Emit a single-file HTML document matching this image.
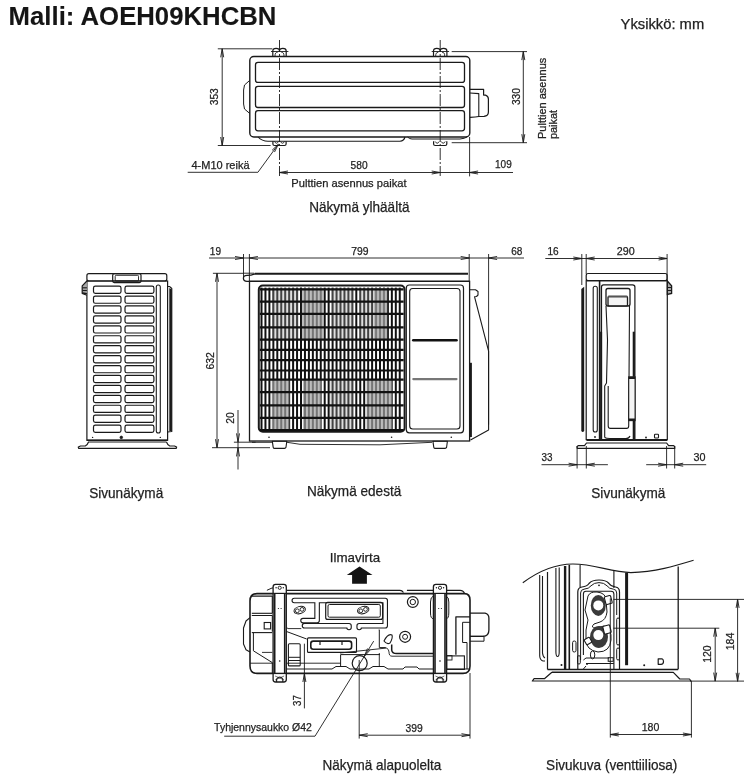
<!DOCTYPE html>
<html><head><meta charset="utf-8"><style>
html,body{margin:0;padding:0;background:#fff;}
svg{display:block;font-family:"Liberation Sans",sans-serif;will-change:transform;}
</style></head><body>
<svg width="744" height="778" viewBox="0 0 744 778">
<text x="8.6" y="25" font-size="25" font-weight="bold" fill="#151515" stroke="#151515" stroke-width="0.1" text-anchor="start" textLength="267.8" lengthAdjust="spacingAndGlyphs" >Malli: AOEH09KHCBN</text>
<text x="620.6" y="29.2" font-size="14.6" font-weight="normal" fill="#222" stroke="#222" stroke-width="0.25" text-anchor="start" textLength="83.6" lengthAdjust="spacingAndGlyphs" >Yksikkö: mm</text>
<line x1="279.5" y1="40" x2="279.5" y2="176" stroke="#1a1a1a" stroke-width="0.9" stroke-dasharray="12 2 2 2"/>
<line x1="440.2" y1="40" x2="440.2" y2="176" stroke="#1a1a1a" stroke-width="0.9" stroke-dasharray="12 2 2 2"/>
<rect x="249.8" y="56.5" width="220.0" height="80.5" rx="4" fill="none" stroke="#1a1a1a" stroke-width="1.4" />
<rect x="255.5" y="62.3" width="209.0" height="20.1" rx="2.5" fill="none" stroke="#1a1a1a" stroke-width="1.3" />
<rect x="255.5" y="86.3" width="209.0" height="21.2" rx="2.5" fill="none" stroke="#1a1a1a" stroke-width="1.3" />
<rect x="255.5" y="110.7" width="209.0" height="20.1" rx="2.5" fill="none" stroke="#1a1a1a" stroke-width="1.3" />
<polyline points="249.8,80.3 244.5,85 243.6,90 243.6,104 244.5,109 249.8,113.5" fill="none" stroke="#1a1a1a" stroke-width="1" stroke-linejoin="round" />
<path d="M258,137 Q262,141.3 268,141.3 L400,141.3 Q404,141 405,137" fill="none" stroke="#1a1a1a" stroke-width="1.1" stroke-linejoin="round" />
<path d="M407.7,137 Q409,139 412,139 L460,139 Q465,138.5 467,137" fill="none" stroke="#1a1a1a" stroke-width="1" stroke-linejoin="round" />
<path d="M272.8,56.5 L272.8,51 Q272.8,48.3 276.1,48.3 Q279.5,48.3 279.5,51 Q279.5,48.3 282.9,48.3 Q286.2,48.3 286.2,51 L286.2,56.5" fill="none" stroke="#1a1a1a" stroke-width="1.2" stroke-linejoin="round" />
<path d="M275.0,56 Q275.0,52 277.5,52.5 M284.0,56 Q284.0,52 281.5,52.5" fill="none" stroke="#1a1a1a" stroke-width="0.9" stroke-linejoin="round" />
<line x1="271.0" y1="51.5" x2="288.4" y2="51.5" stroke="#1a1a1a" stroke-width="0.9" />
<path d="M433.5,56.5 L433.5,51 Q433.5,48.3 436.8,48.3 Q440.2,48.3 440.2,51 Q440.2,48.3 443.59999999999997,48.3 Q446.9,48.3 446.9,51 L446.9,56.5" fill="none" stroke="#1a1a1a" stroke-width="1.2" stroke-linejoin="round" />
<path d="M435.7,56 Q435.7,52 438.2,52.5 M444.7,56 Q444.7,52 442.2,52.5" fill="none" stroke="#1a1a1a" stroke-width="0.9" stroke-linejoin="round" />
<line x1="431.7" y1="51.5" x2="449.09999999999997" y2="51.5" stroke="#1a1a1a" stroke-width="0.9" />
<path d="M272.9,141.3 L272.9,144 Q272.9,145.5 274.5,145.5 L284.5,145.5 Q286.1,145.5 286.1,144 L286.1,141.3" fill="none" stroke="#1a1a1a" stroke-width="1.2" stroke-linejoin="round" />
<path d="M274.5,141.5 Q276.5,145 278.5,141.5 M280.5,141.5 Q282.5,145 284.5,141.5" fill="none" stroke="#1a1a1a" stroke-width="0.9" stroke-linejoin="round" />
<path d="M433.59999999999997,141.3 L433.59999999999997,144 Q433.59999999999997,145.5 435.2,145.5 L445.2,145.5 Q446.8,145.5 446.8,144 L446.8,141.3" fill="none" stroke="#1a1a1a" stroke-width="1.2" stroke-linejoin="round" />
<path d="M435.2,141.5 Q437.2,145 439.2,141.5 M441.2,141.5 Q443.2,145 445.2,141.5" fill="none" stroke="#1a1a1a" stroke-width="0.9" stroke-linejoin="round" />
<path d="M470,89.3 L483.6,89.3 L483.6,95.1 L485.5,95.1 Q488.4,96 488.4,99 L488.4,112 Q488.4,116 484,116.3 L478.8,116.5 Q476,117.3 470,117.3" fill="none" stroke="#1a1a1a" stroke-width="1.2" stroke-linejoin="round" />
<path d="M470,93 L478.8,93.6 L478.8,116.5" fill="none" stroke="#1a1a1a" stroke-width="1.1" stroke-linejoin="round" />
<line x1="217.8" y1="48.8" x2="272.4" y2="48.8" stroke="#1a1a1a" stroke-width="0.9" />
<line x1="217.8" y1="145.5" x2="270.6" y2="145.5" stroke="#1a1a1a" stroke-width="0.9" />
<line x1="222.2" y1="48.8" x2="222.2" y2="145.5" stroke="#1a1a1a" stroke-width="0.9" />
<polyline points="223.7,57.3 222.2,48.8 220.7,57.3" fill="none" stroke="#1a1a1a" stroke-width="0.9" stroke-linejoin="miter"/>
<polyline points="220.7,137.0 222.2,145.5 223.7,137.0" fill="none" stroke="#1a1a1a" stroke-width="0.9" stroke-linejoin="miter"/>
<text x="218.2" y="96.7" font-size="10.8" font-weight="normal" fill="#222" stroke="#222" stroke-width="0.25" text-anchor="middle" textLength="17" lengthAdjust="spacingAndGlyphs" transform="rotate(-90 218.2 96.7)" >353</text>
<line x1="451.7" y1="51.6" x2="527" y2="51.6" stroke="#1a1a1a" stroke-width="0.9" />
<line x1="451.7" y1="142.7" x2="527" y2="142.7" stroke="#1a1a1a" stroke-width="0.9" />
<line x1="523.3" y1="51.6" x2="523.3" y2="142.7" stroke="#1a1a1a" stroke-width="0.9" />
<polyline points="524.8,60.1 523.3,51.6 521.8,60.1" fill="none" stroke="#1a1a1a" stroke-width="0.9" stroke-linejoin="miter"/>
<polyline points="521.8,134.2 523.3,142.7 524.8,134.2" fill="none" stroke="#1a1a1a" stroke-width="0.9" stroke-linejoin="miter"/>
<text x="520.1" y="96.6" font-size="10.8" font-weight="normal" fill="#222" stroke="#222" stroke-width="0.25" text-anchor="middle" textLength="17" lengthAdjust="spacingAndGlyphs" transform="rotate(-90 520.1 96.6)" >330</text>
<text x="546" y="139" font-size="11" font-weight="normal" fill="#222" stroke="#222" stroke-width="0.25" text-anchor="start" textLength="81.3" lengthAdjust="spacingAndGlyphs" transform="rotate(-90 546 139)" >Pulttien asennus</text>
<text x="557.2" y="139" font-size="11" font-weight="normal" fill="#222" stroke="#222" stroke-width="0.25" text-anchor="start" textLength="29" lengthAdjust="spacingAndGlyphs" transform="rotate(-90 557.2 139)" >paikat</text>
<line x1="279.5" y1="172.5" x2="513" y2="172.5" stroke="#1a1a1a" stroke-width="0.9" />
<polyline points="288.0,171.0 279.5,172.5 288.0,174.0" fill="none" stroke="#1a1a1a" stroke-width="0.9" stroke-linejoin="miter"/>
<polyline points="431.7,174.0 440.2,172.5 431.7,171.0" fill="none" stroke="#1a1a1a" stroke-width="0.9" stroke-linejoin="miter"/>
<polyline points="478.1,171.0 469.6,172.5 478.1,174.0" fill="none" stroke="#1a1a1a" stroke-width="0.9" stroke-linejoin="miter"/>
<line x1="469.6" y1="137" x2="469.6" y2="176.4" stroke="#1a1a1a" stroke-width="0.9" />
<text x="350.6" y="169.1" font-size="10.8" font-weight="normal" fill="#222" stroke="#222" stroke-width="0.25" text-anchor="start" textLength="17" lengthAdjust="spacingAndGlyphs" >580</text>
<text x="495" y="168.2" font-size="10.8" font-weight="normal" fill="#222" stroke="#222" stroke-width="0.25" text-anchor="start" textLength="16.7" lengthAdjust="spacingAndGlyphs" >109</text>
<polyline points="187.7,172.3 257.9,172.3 278.3,144.3" fill="none" stroke="#1a1a1a" stroke-width="0.9" stroke-linejoin="round" />
<polyline points="274.51,152.05 278.3,144.3 272.08,150.29" fill="none" stroke="#1a1a1a" stroke-width="0.9" stroke-linejoin="miter"/>
<text x="191.5" y="169" font-size="11" font-weight="normal" fill="#222" stroke="#222" stroke-width="0.25" text-anchor="start" textLength="58" lengthAdjust="spacingAndGlyphs" >4-M10 reikä</text>
<text x="291.3" y="186.6" font-size="11.1" font-weight="normal" fill="#222" stroke="#222" stroke-width="0.25" text-anchor="start" textLength="115.2" lengthAdjust="spacingAndGlyphs" >Pulttien asennus paikat</text>
<text x="309.2" y="211.5" font-size="14.3" font-weight="normal" fill="#222" stroke="#222" stroke-width="0.25" text-anchor="start" textLength="100.3" lengthAdjust="spacingAndGlyphs" >Näkymä ylhäältä</text>
<rect x="86.9" y="281" width="80.7" height="159.3" rx="0" fill="none" stroke="#1a1a1a" stroke-width="1.2" />
<rect x="86.9" y="273.7" width="79.9" height="7.3" rx="2" fill="none" stroke="#1a1a1a" stroke-width="1.2" />
<rect x="112.7" y="273.7" width="28.3" height="8.9" rx="1.5" fill="none" stroke="#1a1a1a" stroke-width="1.2" />
<rect x="115.2" y="275.3" width="23.3" height="5.7" rx="1" fill="none" stroke="#1a1a1a" stroke-width="0.9" />
<rect x="93.5" y="286.1" width="27.5" height="7.2" rx="1.8" fill="none" stroke="#1a1a1a" stroke-width="1.2" />
<rect x="125" y="286.1" width="28.9" height="7.2" rx="1.8" fill="none" stroke="#1a1a1a" stroke-width="1.2" />
<rect x="93.5" y="296.03000000000003" width="27.5" height="7.2" rx="1.8" fill="none" stroke="#1a1a1a" stroke-width="1.2" />
<rect x="125" y="296.03000000000003" width="28.9" height="7.2" rx="1.8" fill="none" stroke="#1a1a1a" stroke-width="1.2" />
<rect x="93.5" y="305.96000000000004" width="27.5" height="7.2" rx="1.8" fill="none" stroke="#1a1a1a" stroke-width="1.2" />
<rect x="125" y="305.96000000000004" width="28.9" height="7.2" rx="1.8" fill="none" stroke="#1a1a1a" stroke-width="1.2" />
<rect x="93.5" y="315.89000000000004" width="27.5" height="7.2" rx="1.8" fill="none" stroke="#1a1a1a" stroke-width="1.2" />
<rect x="125" y="315.89000000000004" width="28.9" height="7.2" rx="1.8" fill="none" stroke="#1a1a1a" stroke-width="1.2" />
<rect x="93.5" y="325.82000000000005" width="27.5" height="7.2" rx="1.8" fill="none" stroke="#1a1a1a" stroke-width="1.2" />
<rect x="125" y="325.82000000000005" width="28.9" height="7.2" rx="1.8" fill="none" stroke="#1a1a1a" stroke-width="1.2" />
<rect x="93.5" y="335.75" width="27.5" height="7.2" rx="1.8" fill="none" stroke="#1a1a1a" stroke-width="1.2" />
<rect x="125" y="335.75" width="28.9" height="7.2" rx="1.8" fill="none" stroke="#1a1a1a" stroke-width="1.2" />
<rect x="93.5" y="345.68" width="27.5" height="7.2" rx="1.8" fill="none" stroke="#1a1a1a" stroke-width="1.2" />
<rect x="125" y="345.68" width="28.9" height="7.2" rx="1.8" fill="none" stroke="#1a1a1a" stroke-width="1.2" />
<rect x="93.5" y="355.61" width="27.5" height="7.2" rx="1.8" fill="none" stroke="#1a1a1a" stroke-width="1.2" />
<rect x="125" y="355.61" width="28.9" height="7.2" rx="1.8" fill="none" stroke="#1a1a1a" stroke-width="1.2" />
<rect x="93.5" y="365.54" width="27.5" height="7.2" rx="1.8" fill="none" stroke="#1a1a1a" stroke-width="1.2" />
<rect x="125" y="365.54" width="28.9" height="7.2" rx="1.8" fill="none" stroke="#1a1a1a" stroke-width="1.2" />
<rect x="93.5" y="375.47" width="27.5" height="7.2" rx="1.8" fill="none" stroke="#1a1a1a" stroke-width="1.2" />
<rect x="125" y="375.47" width="28.9" height="7.2" rx="1.8" fill="none" stroke="#1a1a1a" stroke-width="1.2" />
<rect x="93.5" y="385.40000000000003" width="27.5" height="7.2" rx="1.8" fill="none" stroke="#1a1a1a" stroke-width="1.2" />
<rect x="125" y="385.40000000000003" width="28.9" height="7.2" rx="1.8" fill="none" stroke="#1a1a1a" stroke-width="1.2" />
<rect x="93.5" y="395.33000000000004" width="27.5" height="7.2" rx="1.8" fill="none" stroke="#1a1a1a" stroke-width="1.2" />
<rect x="125" y="395.33000000000004" width="28.9" height="7.2" rx="1.8" fill="none" stroke="#1a1a1a" stroke-width="1.2" />
<rect x="93.5" y="405.26" width="27.5" height="7.2" rx="1.8" fill="none" stroke="#1a1a1a" stroke-width="1.2" />
<rect x="125" y="405.26" width="28.9" height="7.2" rx="1.8" fill="none" stroke="#1a1a1a" stroke-width="1.2" />
<rect x="93.5" y="415.19000000000005" width="27.5" height="7.2" rx="1.8" fill="none" stroke="#1a1a1a" stroke-width="1.2" />
<rect x="125" y="415.19000000000005" width="28.9" height="7.2" rx="1.8" fill="none" stroke="#1a1a1a" stroke-width="1.2" />
<rect x="93.5" y="425.12" width="27.5" height="7.2" rx="1.8" fill="none" stroke="#1a1a1a" stroke-width="1.2" />
<rect x="125" y="425.12" width="28.9" height="7.2" rx="1.8" fill="none" stroke="#1a1a1a" stroke-width="1.2" />
<rect x="156.3" y="285" width="4.0" height="148" rx="2" fill="none" stroke="#1a1a1a" stroke-width="1.1" />
<polyline points="167.6,286.5 169.5,286.5 171.8,288.5 171.8,431.5 167.6,432" fill="none" stroke="#1a1a1a" stroke-width="1.1" stroke-linejoin="round" />
<polygon points="169.3,288 171.9,289.5 171.9,431 169.3,431" fill="#1a1a1a"/>
<polyline points="86.9,281 82.2,285.8 82.2,293.5 86.9,295.2" fill="#aaa" stroke="#1a1a1a" stroke-width="1.2" stroke-linejoin="round" />
<line x1="82.5" y1="287.8" x2="86.9" y2="287.8" stroke="#1a1a1a" stroke-width="1.1" />
<line x1="82.5" y1="290.5" x2="86.9" y2="290.5" stroke="#1a1a1a" stroke-width="1.1" />
<line x1="82.5" y1="293" x2="86.9" y2="293.6" stroke="#1a1a1a" stroke-width="1.3" />
<line x1="86.9" y1="440.3" x2="167.6" y2="440.3" stroke="#1a1a1a" stroke-width="1.4" />
<line x1="88" y1="442" x2="166.5" y2="442" stroke="#1a1a1a" stroke-width="1.0" />
<polyline points="88.5,442 87.2,444.6 85.5,445.8 80.5,446 78.3,447 78.6,448.4 176.3,448.4 176.6,447 174.5,446 169.5,445.8 167.8,444.6 166.5,442" fill="none" stroke="#1a1a1a" stroke-width="1.2" stroke-linejoin="round" />
<circle cx="121.3" cy="437.4" r="1.3" fill="#1a1a1a" stroke="#1a1a1a" stroke-width="0.8"/>
<circle cx="92.6" cy="437.4" r="0.7" fill="#1a1a1a" stroke="#1a1a1a" stroke-width="0"/>
<circle cx="160.3" cy="437.4" r="0.7" fill="#1a1a1a" stroke="#1a1a1a" stroke-width="0"/>
<line x1="209" y1="258" x2="524" y2="258" stroke="#1a1a1a" stroke-width="0.9" />
<polyline points="235.0,259.5 243.5,258 235.0,256.5" fill="none" stroke="#1a1a1a" stroke-width="0.9" stroke-linejoin="miter"/>
<polyline points="257.9,256.5 249.4,258 257.9,259.5" fill="none" stroke="#1a1a1a" stroke-width="0.9" stroke-linejoin="miter"/>
<polyline points="460.7,259.5 469.2,258 460.7,256.5" fill="none" stroke="#1a1a1a" stroke-width="0.9" stroke-linejoin="miter"/>
<polyline points="497.1,256.5 488.6,258 497.1,259.5" fill="none" stroke="#1a1a1a" stroke-width="0.9" stroke-linejoin="miter"/>
<line x1="243.5" y1="254" x2="243.5" y2="279" stroke="#1a1a1a" stroke-width="0.9" />
<line x1="249.4" y1="254" x2="249.4" y2="281" stroke="#1a1a1a" stroke-width="0.9" />
<line x1="469.2" y1="254" x2="469.2" y2="281" stroke="#1a1a1a" stroke-width="0.9" />
<line x1="488.6" y1="254" x2="488.6" y2="424.6" stroke="#1a1a1a" stroke-width="0.9" />
<text x="209.8" y="254.7" font-size="10.8" font-weight="normal" fill="#222" stroke="#222" stroke-width="0.25" text-anchor="start" textLength="11.2" lengthAdjust="spacingAndGlyphs" >19</text>
<text x="351.3" y="254.7" font-size="10.8" font-weight="normal" fill="#222" stroke="#222" stroke-width="0.25" text-anchor="start" textLength="17.3" lengthAdjust="spacingAndGlyphs" >799</text>
<text x="511.2" y="254.7" font-size="10.8" font-weight="normal" fill="#222" stroke="#222" stroke-width="0.25" text-anchor="start" textLength="11.2" lengthAdjust="spacingAndGlyphs" >68</text>
<line x1="212.9" y1="273.3" x2="243" y2="273.3" stroke="#1a1a1a" stroke-width="0.9" />
<line x1="212" y1="447.7" x2="270" y2="447.7" stroke="#1a1a1a" stroke-width="0.9" />
<line x1="217" y1="273.3" x2="217" y2="447.7" stroke="#1a1a1a" stroke-width="0.9" />
<polyline points="218.5,281.8 217,273.3 215.5,281.8" fill="none" stroke="#1a1a1a" stroke-width="0.9" stroke-linejoin="miter"/>
<polyline points="215.5,439.2 217,447.7 218.5,439.2" fill="none" stroke="#1a1a1a" stroke-width="0.9" stroke-linejoin="miter"/>
<text x="214.2" y="360.8" font-size="10.8" font-weight="normal" fill="#222" stroke="#222" stroke-width="0.25" text-anchor="middle" textLength="17.4" lengthAdjust="spacingAndGlyphs" transform="rotate(-90 214.2 360.8)" >632</text>
<line x1="238" y1="410" x2="238" y2="469.5" stroke="#1a1a1a" stroke-width="0.9" />
<line x1="233.9" y1="442.2" x2="255.6" y2="442.2" stroke="#1a1a1a" stroke-width="0.9" />
<polyline points="236.5,433.4 238,441.9 239.5,433.4" fill="none" stroke="#1a1a1a" stroke-width="0.9" stroke-linejoin="miter"/>
<polyline points="239.5,456.4 238,447.9 236.5,456.4" fill="none" stroke="#1a1a1a" stroke-width="0.9" stroke-linejoin="miter"/>
<text x="234.4" y="418" font-size="10.8" font-weight="normal" fill="#222" stroke="#222" stroke-width="0.25" text-anchor="middle" textLength="11.5" lengthAdjust="spacingAndGlyphs" transform="rotate(-90 234.4 418)" >20</text>
<path d="M255,273.8 Q251,275.4 247,275.4 Q243.4,275.4 243.4,278.3 Q243.4,281.3 247,281.3 L469.2,281.3" fill="none" stroke="#1a1a1a" stroke-width="1.3" stroke-linejoin="round" />
<line x1="254.7" y1="273.8" x2="468" y2="273.8" stroke="#1a1a1a" stroke-width="2.1" />
<line x1="243" y1="273.2" x2="254" y2="273.2" stroke="#1a1a1a" stroke-width="0.9" />
<rect x="249.5" y="281.3" width="220.1" height="159.7" rx="0" fill="none" stroke="#1a1a1a" stroke-width="1.3" />
<line x1="252" y1="442.3" x2="272.3" y2="442.3" stroke="#1a1a1a" stroke-width="0.9" />
<rect x="258.8" y="285.6" width="145.8" height="146.2" rx="4" fill="#fff" stroke="#1a1a1a" stroke-width="2"/><line x1="261.50" y1="287.6" x2="261.50" y2="429.8" stroke="#111" stroke-width="2.0"/><line x1="265.45" y1="287.6" x2="265.45" y2="429.8" stroke="#111" stroke-width="2.0"/><line x1="269.40" y1="287.6" x2="269.40" y2="429.8" stroke="#111" stroke-width="2.0"/><line x1="273.35" y1="287.6" x2="273.35" y2="429.8" stroke="#111" stroke-width="2.0"/><line x1="277.30" y1="287.6" x2="277.30" y2="429.8" stroke="#111" stroke-width="2.0"/><line x1="281.25" y1="287.6" x2="281.25" y2="429.8" stroke="#111" stroke-width="2.0"/><line x1="285.20" y1="287.6" x2="285.20" y2="429.8" stroke="#111" stroke-width="2.0"/><line x1="289.15" y1="287.6" x2="289.15" y2="429.8" stroke="#111" stroke-width="2.0"/><line x1="293.10" y1="287.6" x2="293.10" y2="429.8" stroke="#111" stroke-width="2.0"/><line x1="297.05" y1="287.6" x2="297.05" y2="429.8" stroke="#111" stroke-width="2.0"/><line x1="301.00" y1="287.6" x2="301.00" y2="429.8" stroke="#111" stroke-width="2.0"/><line x1="304.95" y1="287.6" x2="304.95" y2="429.8" stroke="#111" stroke-width="2.0"/><line x1="308.90" y1="287.6" x2="308.90" y2="429.8" stroke="#111" stroke-width="2.0"/><line x1="312.85" y1="287.6" x2="312.85" y2="429.8" stroke="#111" stroke-width="2.0"/><line x1="316.80" y1="287.6" x2="316.80" y2="429.8" stroke="#111" stroke-width="2.0"/><line x1="320.75" y1="287.6" x2="320.75" y2="429.8" stroke="#111" stroke-width="2.0"/><line x1="324.70" y1="287.6" x2="324.70" y2="429.8" stroke="#111" stroke-width="2.0"/><line x1="328.65" y1="287.6" x2="328.65" y2="429.8" stroke="#111" stroke-width="2.0"/><line x1="332.60" y1="287.6" x2="332.60" y2="429.8" stroke="#111" stroke-width="2.0"/><line x1="336.55" y1="287.6" x2="336.55" y2="429.8" stroke="#111" stroke-width="2.0"/><line x1="340.50" y1="287.6" x2="340.50" y2="429.8" stroke="#111" stroke-width="2.0"/><line x1="344.45" y1="287.6" x2="344.45" y2="429.8" stroke="#111" stroke-width="2.0"/><line x1="348.40" y1="287.6" x2="348.40" y2="429.8" stroke="#111" stroke-width="2.0"/><line x1="352.35" y1="287.6" x2="352.35" y2="429.8" stroke="#111" stroke-width="2.0"/><line x1="356.30" y1="287.6" x2="356.30" y2="429.8" stroke="#111" stroke-width="2.0"/><line x1="360.25" y1="287.6" x2="360.25" y2="429.8" stroke="#111" stroke-width="2.0"/><line x1="364.20" y1="287.6" x2="364.20" y2="429.8" stroke="#111" stroke-width="2.0"/><line x1="368.15" y1="287.6" x2="368.15" y2="429.8" stroke="#111" stroke-width="2.0"/><line x1="372.10" y1="287.6" x2="372.10" y2="429.8" stroke="#111" stroke-width="2.0"/><line x1="376.05" y1="287.6" x2="376.05" y2="429.8" stroke="#111" stroke-width="2.0"/><line x1="380.00" y1="287.6" x2="380.00" y2="429.8" stroke="#111" stroke-width="2.0"/><line x1="383.95" y1="287.6" x2="383.95" y2="429.8" stroke="#111" stroke-width="2.0"/><line x1="387.90" y1="287.6" x2="387.90" y2="429.8" stroke="#111" stroke-width="2.0"/><line x1="391.85" y1="287.6" x2="391.85" y2="429.8" stroke="#111" stroke-width="2.0"/><line x1="395.80" y1="287.6" x2="395.80" y2="429.8" stroke="#111" stroke-width="2.0"/><line x1="399.75" y1="287.6" x2="399.75" y2="429.8" stroke="#111" stroke-width="2.0"/><rect x="272.7" y="288" width="26.05" height="51" fill="#a0a0a0" fill-opacity="0.35"/><rect x="301.9" y="288" width="21.85" height="51" fill="#a0a0a0" fill-opacity="0.7"/><rect x="331" y="288" width="22" height="51" fill="#a0a0a0" fill-opacity="0.35"/><rect x="359" y="288" width="14.75" height="51" fill="#a0a0a0" fill-opacity="0.35"/><rect x="374" y="288" width="13.3" height="51" fill="#a0a0a0" fill-opacity="0.75"/><rect x="271.7" y="379" width="17.7" height="52" fill="#a0a0a0" fill-opacity="0.7"/><rect x="302.9" y="379" width="18.8" height="52" fill="#a0a0a0" fill-opacity="0.7"/><rect x="330" y="379" width="23" height="52" fill="#a0a0a0" fill-opacity="0.35"/><rect x="366.5" y="379" width="26.0" height="52" fill="#a0a0a0" fill-opacity="0.7"/><line x1="259.8" y1="289.3" x2="403.6" y2="289.3" stroke="#111" stroke-width="2.2"/><line x1="259.8" y1="301.6" x2="403.6" y2="301.6" stroke="#111" stroke-width="2.2"/><line x1="259.8" y1="313.9" x2="403.6" y2="313.9" stroke="#111" stroke-width="2.2"/><line x1="259.8" y1="327.3" x2="403.6" y2="327.3" stroke="#111" stroke-width="2.2"/><line x1="259.8" y1="339.6" x2="403.6" y2="339.6" stroke="#111" stroke-width="2.2"/><line x1="259.8" y1="349.9" x2="403.6" y2="349.9" stroke="#111" stroke-width="2.2"/><line x1="259.8" y1="360.2" x2="403.6" y2="360.2" stroke="#111" stroke-width="2.2"/><line x1="259.8" y1="370.5" x2="403.6" y2="370.5" stroke="#111" stroke-width="2.2"/><line x1="259.8" y1="379.7" x2="403.6" y2="379.7" stroke="#111" stroke-width="2.2"/><line x1="259.8" y1="392.1" x2="403.6" y2="392.1" stroke="#111" stroke-width="2.2"/><line x1="259.8" y1="405.4" x2="403.6" y2="405.4" stroke="#111" stroke-width="2.2"/><line x1="259.8" y1="417.8" x2="403.6" y2="417.8" stroke="#111" stroke-width="2.2"/><line x1="259.8" y1="430.1" x2="403.6" y2="430.1" stroke="#111" stroke-width="2.2"/>
<rect x="406.3" y="285" width="57.2" height="147.8" rx="3" fill="none" stroke="#1a1a1a" stroke-width="1.2" />
<rect x="409.7" y="288.5" width="50.3" height="140.5" rx="3" fill="none" stroke="#1a1a1a" stroke-width="1.1" />
<line x1="413.3" y1="340.3" x2="456.5" y2="340.3" stroke="#111" stroke-width="2.6" stroke-linecap="round"/>
<line x1="413.3" y1="379.1" x2="456.5" y2="379.1" stroke="#777" stroke-width="2.2" stroke-linecap="round"/>
<polyline points="469.5,289.7 475.5,289.8 478,291.5 478,295 476.5,296.5 474.5,296.7 488.6,351.2 488.6,430 470.5,440" fill="none" stroke="#1a1a1a" stroke-width="1.1" stroke-linejoin="round" />
<line x1="470.8" y1="362.8" x2="470.8" y2="437" stroke="#1a1a1a" stroke-width="2.2" />
<path d="M272.3,441.2 L286.8,441.2 L286,447.3 Q285.6,448.4 284.5,448.4 L274.6,448.4 Q273.5,448.4 273.2,447.3 Z" fill="none" stroke="#1a1a1a" stroke-width="1.1" stroke-linejoin="round" />
<path d="M432.9,441.2 L447.4,441.2 L446.6,447.3 Q446.2,448.4 445.1,448.4 L435.2,448.4 Q434.1,448.4 433.8,447.3 Z" fill="none" stroke="#1a1a1a" stroke-width="1.1" stroke-linejoin="round" />
<polyline points="287,442.3 300,444.3 380,444.8 432,442.3" fill="none" stroke="#1a1a1a" stroke-width="0.9" stroke-linejoin="round" />
<circle cx="269" cy="437.2" r="0.8" fill="#1a1a1a" stroke="#1a1a1a" stroke-width="0"/>
<circle cx="391.6" cy="437.2" r="0.8" fill="#1a1a1a" stroke="#1a1a1a" stroke-width="0"/>
<circle cx="451.3" cy="437.2" r="0.8" fill="#1a1a1a" stroke="#1a1a1a" stroke-width="0"/>
<line x1="545.3" y1="258.5" x2="666.6" y2="258.5" stroke="#1a1a1a" stroke-width="0.9" />
<polyline points="573.3,260.0 581.8,258.5 573.3,257.0" fill="none" stroke="#1a1a1a" stroke-width="0.9" stroke-linejoin="miter"/>
<polyline points="594.7,257.0 586.2,258.5 594.7,260.0" fill="none" stroke="#1a1a1a" stroke-width="0.9" stroke-linejoin="miter"/>
<polyline points="658.6,260.0 667.1,258.5 658.6,257.0" fill="none" stroke="#1a1a1a" stroke-width="0.9" stroke-linejoin="miter"/>
<line x1="581.8" y1="254" x2="581.8" y2="285" stroke="#1a1a1a" stroke-width="0.9" />
<line x1="586.2" y1="254" x2="586.2" y2="274" stroke="#1a1a1a" stroke-width="0.9" />
<line x1="667.1" y1="254" x2="667.1" y2="280" stroke="#1a1a1a" stroke-width="0.9" />
<text x="547.4" y="254.7" font-size="10.8" font-weight="normal" fill="#222" stroke="#222" stroke-width="0.25" text-anchor="start" textLength="11.2" lengthAdjust="spacingAndGlyphs" >16</text>
<text x="616.8" y="254.7" font-size="10.8" font-weight="normal" fill="#222" stroke="#222" stroke-width="0.25" text-anchor="start" textLength="17.9" lengthAdjust="spacingAndGlyphs" >290</text>
<rect x="586.2" y="273.5" width="80.9" height="7.2" rx="2" fill="none" stroke="#1a1a1a" stroke-width="1.2" />
<rect x="586.2" y="280.7" width="81.1" height="158.9" rx="0" fill="none" stroke="#1a1a1a" stroke-width="1.2" />
<path d="M667.3,281 L671.6,285.7 L671.6,293.4 L667.3,294.5 Z" fill="#aaa" stroke="#1a1a1a" stroke-width="1.3"/>
<line x1="667.5" y1="287.5" x2="671.5" y2="287.5" stroke="#1a1a1a" stroke-width="1" />
<line x1="667.5" y1="290.5" x2="671.5" y2="290.5" stroke="#1a1a1a" stroke-width="1" />
<path d="M581.3,289 L584.2,286.7 L584.2,431 Q582.7,433 581.3,431 Z" fill="#1a1a1a"/>
<rect x="593.2" y="286.2" width="4.1" height="145.8" rx="2" fill="none" stroke="#1a1a1a" stroke-width="1.1" />
<line x1="599.6" y1="281" x2="599.6" y2="439.5" stroke="#1a1a1a" stroke-width="1.6" />
<path d="M601.5,439 L601.5,287 Q601.5,284.9 603.5,284.9 L632.5,284.9 Q634.9,284.9 634.9,287 L634.9,439" fill="none" stroke="#1a1a1a" stroke-width="1.2" stroke-linejoin="round" />
<rect x="606" y="288.5" width="24" height="17.5" rx="2" fill="none" stroke="#1a1a1a" stroke-width="1.3" />
<rect x="608" y="296.5" width="19.5" height="9.3" rx="1" fill="#f4f4f4" stroke="#1a1a1a" stroke-width="1.3" />
<line x1="608" y1="296.5" x2="627.5" y2="296.5" stroke="#555" stroke-width="1.6" />
<path d="M606,306 L607.5,340 L606.5,383 L604.7,386 L604.7,437.5 M608.2,386 L608.2,426 Q608.2,428.4 610.5,428.4 L626.5,428.4 Q628.7,428.4 628.7,426 L629.5,306" fill="none" stroke="#1a1a1a" stroke-width="1.1" stroke-linejoin="round" />
<path d="M604.7,437.5 Q606,438.5 610,438.5 L626,438.5 Q629,438.5 630,436" fill="none" stroke="#1a1a1a" stroke-width="1.1" stroke-linejoin="round" />
<line x1="601.1" y1="331.7" x2="601.1" y2="439" stroke="#1a1a1a" stroke-width="2" />
<line x1="633.8" y1="331.7" x2="633.8" y2="439" stroke="#1a1a1a" stroke-width="2.2" />
<rect x="628.7" y="376.8" width="6.4" height="43.8" rx="0" fill="#f4f4f4" stroke="#1a1a1a" stroke-width="1.1" />
<line x1="628.7" y1="378" x2="635.1" y2="378" stroke="#1a1a1a" stroke-width="2" />
<line x1="628.7" y1="419.5" x2="635.1" y2="419.5" stroke="#1a1a1a" stroke-width="2" />
<rect x="654.5" y="434.2" width="4.0" height="3.8" rx="0.8" fill="none" stroke="#1a1a1a" stroke-width="1.1" />
<circle cx="646" cy="437.5" r="0.9" fill="#1a1a1a" stroke="#1a1a1a" stroke-width="0"/>
<circle cx="595" cy="437" r="0.9" fill="#1a1a1a" stroke="#1a1a1a" stroke-width="0"/>
<line x1="586.5" y1="440.3" x2="667.3" y2="440.3" stroke="#1a1a1a" stroke-width="1.6" />
<polyline points="577.1,448.4 577.1,446.6 578.5,445.6 584.5,445.6 586.5,443 666.6,443 668.6,445.6 673.3,445.6 674.7,446.6 674.7,448.4 577.1,448.4" fill="none" stroke="#1a1a1a" stroke-width="1.2" stroke-linejoin="round" />
<line x1="577.1" y1="446" x2="577.1" y2="468.5" stroke="#1a1a1a" stroke-width="0.9" />
<line x1="586.3" y1="446" x2="586.3" y2="468.5" stroke="#1a1a1a" stroke-width="0.9" />
<line x1="541.5" y1="464.7" x2="607.9" y2="464.7" stroke="#1a1a1a" stroke-width="0.9" />
<polyline points="568.6,466.2 577.1,464.7 568.6,463.2" fill="none" stroke="#1a1a1a" stroke-width="0.9" stroke-linejoin="miter"/>
<polyline points="594.8,463.2 586.3,464.7 594.8,466.2" fill="none" stroke="#1a1a1a" stroke-width="0.9" stroke-linejoin="miter"/>
<text x="541.5" y="461.3" font-size="10.8" font-weight="normal" fill="#222" stroke="#222" stroke-width="0.25" text-anchor="start" textLength="11" lengthAdjust="spacingAndGlyphs" >33</text>
<line x1="666.6" y1="446" x2="666.6" y2="468.5" stroke="#1a1a1a" stroke-width="0.9" />
<line x1="674.7" y1="446" x2="674.7" y2="468.5" stroke="#1a1a1a" stroke-width="0.9" />
<line x1="646.2" y1="464.7" x2="706.2" y2="464.7" stroke="#1a1a1a" stroke-width="0.9" />
<polyline points="658.1,466.2 666.6,464.7 658.1,463.2" fill="none" stroke="#1a1a1a" stroke-width="0.9" stroke-linejoin="miter"/>
<polyline points="683.2,463.2 674.7,464.7 683.2,466.2" fill="none" stroke="#1a1a1a" stroke-width="0.9" stroke-linejoin="miter"/>
<text x="693.4" y="461.3" font-size="10.8" font-weight="normal" fill="#222" stroke="#222" stroke-width="0.25" text-anchor="start" textLength="12" lengthAdjust="spacingAndGlyphs" >30</text>
<text x="89.2" y="497.9" font-size="14.5" font-weight="normal" fill="#222" stroke="#222" stroke-width="0.25" text-anchor="start" textLength="74" lengthAdjust="spacingAndGlyphs" >Sivunäkymä</text>
<text x="306.9" y="495.6" font-size="14.3" font-weight="normal" fill="#222" stroke="#222" stroke-width="0.25" text-anchor="start" textLength="94.4" lengthAdjust="spacingAndGlyphs" >Näkymä edestä</text>
<text x="591.3" y="497.9" font-size="14.5" font-weight="normal" fill="#222" stroke="#222" stroke-width="0.25" text-anchor="start" textLength="74" lengthAdjust="spacingAndGlyphs" >Sivunäkymä</text>
<text x="329.8" y="562.4" font-size="13.3" font-weight="normal" fill="#222" stroke="#222" stroke-width="0.25" text-anchor="start" textLength="50.4" lengthAdjust="spacingAndGlyphs" >Ilmavirta</text>
<polygon points="359.5,566.4 372.5,575 366.9,575 366.9,583.7 352.1,583.7 352.1,575 346.8,575" fill="#141414"/>
<path d="M250,601 Q250,593.6 257,593.6 L464.4,593.6 Q470,593.6 470,600 L470,666 Q470,673.4 463,673.4 L257,673.4 Q250,673.4 250,666 Z" fill="none" stroke="#1a1a1a" stroke-width="1.6" stroke-linejoin="round" />
<path d="M266.9,590.3 L272,588 L273,588" fill="none" stroke="#1a1a1a" stroke-width="1" stroke-linejoin="round" />
<path d="M286.5,590.3 L400,590.3 Q402,590.3 403.5,592.5 M406.9,590.3 L460.2,590.3 Q463,590.3 464.4,593" fill="none" stroke="#1a1a1a" stroke-width="1.2" stroke-linejoin="round" />
<polyline points="251.8,596.1 272.3,596.1 272.3,613.3" fill="none" stroke="#1a1a1a" stroke-width="1.1" stroke-linejoin="round" />
<polyline points="251.8,613.3 272.3,613.3" fill="none" stroke="#1a1a1a" stroke-width="1.1" stroke-linejoin="round" />
<polyline points="251.8,615.5 272.3,615.5 272.3,631.6" fill="none" stroke="#1a1a1a" stroke-width="1" stroke-linejoin="round" />
<rect x="264.2" y="622.5" width="6.4" height="6.4" rx="0" fill="none" stroke="#1a1a1a" stroke-width="1.1" />
<line x1="251.8" y1="632.6" x2="272.3" y2="632.6" stroke="#1a1a1a" stroke-width="1.1" />
<polyline points="253.4,632.6 253.4,650.8 272.3,662.6 272.3,673" fill="none" stroke="#1a1a1a" stroke-width="1" stroke-linejoin="round" />
<line x1="262" y1="652.4" x2="272.3" y2="652.4" stroke="#1a1a1a" stroke-width="0.9" />
<polyline points="250,617.6 246,621 243.5,628 243.5,644 246,649.7 250,652" fill="none" stroke="#1a1a1a" stroke-width="1.1" stroke-linejoin="round" />
<path d="M294.3,600.5 L385.2,600.5 L385.2,621.2 M317.1,600.5 L317.1,620.6 L303,620.6 M304.5,625.8 L349,625.8 L349,627.5 M359.2,627.5 L359.2,625.8 L385.2,625.8 L385.2,621" fill="none" stroke="#1a1a1a" stroke-width="5.6" stroke-linecap="round" stroke-linejoin="round"/>
<path d="M294.3,600.5 L385.2,600.5 L385.2,621.2 M317.1,600.5 L317.1,620.6 L303,620.6 M304.5,625.8 L349,625.8 L349,627.5 M359.2,627.5 L359.2,625.8 L385.2,625.8 L385.2,621" fill="none" stroke="#fff" stroke-width="3.4" stroke-linecap="round" stroke-linejoin="round"/>
<rect x="325.7" y="602.3" width="56.9" height="17.1" rx="2" fill="none" stroke="#1a1a1a" stroke-width="1.2" />
<rect x="328" y="604.5" width="52.3" height="12.7" rx="1.5" fill="none" stroke="#1a1a1a" stroke-width="1" />
<ellipse cx="299.7" cy="610.1" rx="5.8" ry="3.6" transform="rotate(-15 299.7 610.1)" fill="none" stroke="#1a1a1a" stroke-width="1"/>
<ellipse cx="363.2" cy="610.1" rx="5.8" ry="3.6" transform="rotate(-15 363.2 610.1)" fill="none" stroke="#1a1a1a" stroke-width="1"/>
<circle cx="297.3" cy="610.8" r="1.9" fill="none" stroke="#1a1a1a" stroke-width="0.9"/>
<circle cx="302" cy="609.4" r="1.9" fill="none" stroke="#1a1a1a" stroke-width="0.9"/>
<circle cx="360.8" cy="610.8" r="1.9" fill="none" stroke="#1a1a1a" stroke-width="0.9"/>
<circle cx="365.5" cy="609.4" r="1.9" fill="none" stroke="#1a1a1a" stroke-width="0.9"/>
<polyline points="286.5,627.5 288,628.6 301.3,628.6" fill="none" stroke="#1a1a1a" stroke-width="0.9" stroke-linejoin="round" />
<polyline points="286.5,631.5 306.7,639" fill="none" stroke="#1a1a1a" stroke-width="1" stroke-linejoin="round" />
<circle cx="412.8" cy="602" r="5.4" fill="none" stroke="#1a1a1a" stroke-width="1.2"/>
<circle cx="412.8" cy="602" r="2.7" fill="none" stroke="#1a1a1a" stroke-width="1"/>
<circle cx="405.1" cy="636.8" r="5.5" fill="none" stroke="#1a1a1a" stroke-width="1.2"/>
<circle cx="405.1" cy="636.8" r="2.5" fill="none" stroke="#1a1a1a" stroke-width="1"/>
<rect x="307.5" y="637.9" width="49.0" height="14.5" rx="1" fill="none" stroke="#1a1a1a" stroke-width="1.1" />
<rect x="310.8" y="641.1" width="40.8" height="8.1" rx="2.5" fill="none" stroke="#1a1a1a" stroke-width="1.6" />
<line x1="320" y1="641.1" x2="320" y2="645" stroke="#1a1a1a" stroke-width="1.2" />
<line x1="342" y1="641.1" x2="342" y2="645" stroke="#1a1a1a" stroke-width="1.2" />
<rect x="288.4" y="643.8" width="11.8" height="22.1" rx="1" fill="none" stroke="#1a1a1a" stroke-width="1.1" />
<line x1="288.4" y1="657.3" x2="300.2" y2="657.3" stroke="#1a1a1a" stroke-width="1" />
<line x1="288.4" y1="660.5" x2="300.2" y2="660.5" stroke="#1a1a1a" stroke-width="1" />
<path d="M378.8,629.8 L379.3,629.8 L379.3,647.6 L385.8,647.6" fill="none" stroke="#1a1a1a" stroke-width="1" stroke-linejoin="round" />
<path d="M391.7,644.4 L391.7,650 Q392,653.5 396.5,653.5 L433.4,653.5" fill="none" stroke="#1a1a1a" stroke-width="1.5" stroke-linejoin="round" />
<path d="M340,653 L386.8,648 Q389,650 389,652 Q389,656.2 392,656.2 L433.4,656.2" fill="none" stroke="#1a1a1a" stroke-width="0.9" stroke-linejoin="round" />
<path d="M384,641 Q388,633 392,635 Q393,638 390,643 Q387,645 384,641 Z" fill="none" stroke="#1a1a1a" stroke-width="1.1" stroke-linejoin="round" />
<polyline points="340.6,654.6 340.6,667" fill="none" stroke="#1a1a1a" stroke-width="1" stroke-linejoin="round" />
<line x1="340.6" y1="654.6" x2="380" y2="654.6" stroke="#1a1a1a" stroke-width="1" />
<line x1="379.3" y1="653" x2="379.3" y2="667" stroke="#1a1a1a" stroke-width="0.9" />
<line x1="250" y1="663.2" x2="340.6" y2="663.2" stroke="#1a1a1a" stroke-width="0.9" />
<path d="M286.5,669 L332,669 L336,666.5 L346,666.5 L350,669 L369,669 L373,666.5 L384,666.5 L388,669 L403,669 L405,667 L417,667 L419,669 L470,669" fill="none" stroke="#1a1a1a" stroke-width="1" stroke-linejoin="round" />
<circle cx="359.7" cy="663.2" r="7.5" fill="none" stroke="#1a1a1a" stroke-width="1.2"/>
<path d="M433.4,596 Q430.5,597 430.5,602 L430.5,613 Q430.5,618.7 433.4,618.7 M446.1,596 Q448.8,597 448.8,602 L448.8,613 Q448.8,618.7 446.1,618.7" fill="none" stroke="#1a1a1a" stroke-width="1" stroke-linejoin="round" />
<path d="M470,613.1 L485,613.1 Q488.9,614 488.9,618 L488.9,630 Q488.9,636.3 483,636.3 L470,636.3" fill="none" stroke="#1a1a1a" stroke-width="1.3" stroke-linejoin="round" />
<polyline points="470,636.3 484,636.3 484,641.2 470,641.2" fill="none" stroke="#1a1a1a" stroke-width="1" stroke-linejoin="round" />
<polyline points="470,616.8 455.9,616.8 455.9,654.7" fill="none" stroke="#1a1a1a" stroke-width="1.3" stroke-linejoin="round" />
<polyline points="470,622.3 462.6,622.3 462.6,642.5 467,642.5 467,669" fill="none" stroke="#1a1a1a" stroke-width="1" stroke-linejoin="round" />
<rect x="446.7" y="655.9" width="17.7" height="13.5" rx="0" fill="none" stroke="#1a1a1a" stroke-width="1.1" />
<rect x="446.1" y="655.6" width="5.9" height="4.4" rx="0" fill="none" stroke="#1a1a1a" stroke-width="0.9" />
<rect x="273.1" y="584.4" width="13.2" height="97.6" rx="2.5" fill="#fff" stroke="#1a1a1a" stroke-width="1.3"/>
<line x1="274.70000000000005" y1="593.4" x2="274.70000000000005" y2="674" stroke="#1a1a1a" stroke-width="1.6" />
<line x1="284.70000000000005" y1="593.4" x2="284.70000000000005" y2="674" stroke="#1a1a1a" stroke-width="1.6" />
<line x1="273.1" y1="593.4" x2="286.3" y2="593.4" stroke="#1a1a1a" stroke-width="1.2" />
<line x1="273.1" y1="673.4" x2="286.3" y2="673.4" stroke="#1a1a1a" stroke-width="1.4" />
<circle cx="279.70000000000005" cy="587.8" r="1.6" fill="none" stroke="#1a1a1a" stroke-width="0.9"/>
<circle cx="276.1" cy="587.8" r="0.7" fill="#1a1a1a"/><circle cx="283.3" cy="587.8" r="0.7" fill="#1a1a1a"/>
<circle cx="278.40000000000003" cy="608.5" r="0.6" fill="#1a1a1a"/><circle cx="281.1" cy="608.5" r="0.6" fill="#1a1a1a"/><circle cx="279.70000000000005" cy="661" r="0.8" fill="#1a1a1a"/>
<path d="M276.6,682 L276.6,679 Q279.70000000000005,675 282.8,679 L282.8,682" fill="none" stroke="#1a1a1a" stroke-width="1.1" stroke-linejoin="round" />
<path d="M275.1,676 L284.1,680 M284.1,676 L275.1,680" fill="none" stroke="#1a1a1a" stroke-width="0.6" stroke-linejoin="round" />
<rect x="433.4" y="584.4" width="13.2" height="97.6" rx="2.5" fill="#fff" stroke="#1a1a1a" stroke-width="1.3"/>
<line x1="435.0" y1="593.4" x2="435.0" y2="674" stroke="#1a1a1a" stroke-width="1.6" />
<line x1="445.0" y1="593.4" x2="445.0" y2="674" stroke="#1a1a1a" stroke-width="1.6" />
<line x1="433.4" y1="593.4" x2="446.59999999999997" y2="593.4" stroke="#1a1a1a" stroke-width="1.2" />
<line x1="433.4" y1="673.4" x2="446.59999999999997" y2="673.4" stroke="#1a1a1a" stroke-width="1.4" />
<circle cx="440.0" cy="587.8" r="1.6" fill="none" stroke="#1a1a1a" stroke-width="0.9"/>
<circle cx="436.4" cy="587.8" r="0.7" fill="#1a1a1a"/><circle cx="443.59999999999997" cy="587.8" r="0.7" fill="#1a1a1a"/>
<circle cx="438.7" cy="608.5" r="0.6" fill="#1a1a1a"/><circle cx="441.4" cy="608.5" r="0.6" fill="#1a1a1a"/><circle cx="440.0" cy="661" r="0.8" fill="#1a1a1a"/>
<path d="M436.9,682 L436.9,679 Q440.0,675 443.09999999999997,679 L443.09999999999997,682" fill="none" stroke="#1a1a1a" stroke-width="1.1" stroke-linejoin="round" />
<path d="M435.4,676 L444.4,680 M444.4,676 L435.4,680" fill="none" stroke="#1a1a1a" stroke-width="0.6" stroke-linejoin="round" />
<polyline points="224.2,736.2 315,736.2 373.7,641.1" fill="none" stroke="#1a1a1a" stroke-width="0.9" stroke-linejoin="round" />
<polyline points="367.47,648.51 364.2,656.5 370.0,650.11" fill="none" stroke="#1a1a1a" stroke-width="0.9" stroke-linejoin="miter"/>
<text x="214.1" y="730.6" font-size="10.8" font-weight="normal" fill="#222" stroke="#222" stroke-width="0.25" text-anchor="start" textLength="97.8" lengthAdjust="spacingAndGlyphs" >Tyhjennysaukko Ø42</text>
<line x1="304.4" y1="643.7" x2="304.4" y2="708.4" stroke="#1a1a1a" stroke-width="0.9" />
<polyline points="305.9,682.0 304.4,673.5 302.9,682.0" fill="none" stroke="#1a1a1a" stroke-width="0.9" stroke-linejoin="miter"/>
<text x="300.9" y="700.6" font-size="10.8" font-weight="normal" fill="#222" stroke="#222" stroke-width="0.25" text-anchor="middle" textLength="10.7" lengthAdjust="spacingAndGlyphs" transform="rotate(-90 300.9 700.6)" >37</text>
<line x1="359.2" y1="660" x2="359.2" y2="738.6" stroke="#1a1a1a" stroke-width="0.9" />
<line x1="470" y1="673" x2="470" y2="738.6" stroke="#1a1a1a" stroke-width="0.9" />
<line x1="359.2" y1="735.2" x2="470" y2="735.2" stroke="#1a1a1a" stroke-width="0.9" />
<polyline points="367.7,733.7 359.2,735.2 367.7,736.7" fill="none" stroke="#1a1a1a" stroke-width="0.9" stroke-linejoin="miter"/>
<polyline points="461.5,736.7 470,735.2 461.5,733.7" fill="none" stroke="#1a1a1a" stroke-width="0.9" stroke-linejoin="miter"/>
<text x="405.5" y="731.6" font-size="10.8" font-weight="normal" fill="#222" stroke="#222" stroke-width="0.25" text-anchor="start" textLength="17.2" lengthAdjust="spacingAndGlyphs" >399</text>
<text x="322.6" y="769.9" font-size="14.4" font-weight="normal" fill="#222" stroke="#222" stroke-width="0.25" text-anchor="start" textLength="118.7" lengthAdjust="spacingAndGlyphs" >Näkymä alapuolelta</text>
<path d="M522.8,582.8 C540,570 555,564 572.9,564 C595,564 610,572 630.9,572.6 C655,572 675,566 693.6,560.3" fill="none" stroke="#1a1a1a" stroke-width="1.1" stroke-linejoin="round" />
<line x1="678.2" y1="566.5" x2="678.2" y2="669.3" stroke="#1a1a1a" stroke-width="1.3" />
<path d="M539.7,575 L539.7,656 Q540,660 543,661 L545,661" fill="none" stroke="#1a1a1a" stroke-width="1.1" stroke-linejoin="round" />
<path d="M542.5,576 L542.5,653 Q543,657 545,658" fill="none" stroke="#1a1a1a" stroke-width="1.1" stroke-linejoin="round" />
<line x1="547.5" y1="572" x2="547.5" y2="669.5" stroke="#1a1a1a" stroke-width="1.2" />
<path d="M555.9,568 L555.9,652 Q556,656.5 557.5,656.5 Q559.2,656.5 559.2,652 L559.2,567.5" fill="none" stroke="#1a1a1a" stroke-width="1.1" stroke-linejoin="round" />
<line x1="565.1" y1="566" x2="565.1" y2="669.5" stroke="#1a1a1a" stroke-width="2.4" />
<line x1="569.3" y1="565" x2="569.3" y2="669.5" stroke="#1a1a1a" stroke-width="1.6" />
<line x1="580.1" y1="565" x2="580.1" y2="587" stroke="#1a1a1a" stroke-width="1.1" />
<line x1="613.9" y1="570.5" x2="613.9" y2="588" stroke="#1a1a1a" stroke-width="1.1" />
<line x1="626.6" y1="572.6" x2="626.6" y2="665.2" stroke="#1a1a1a" stroke-width="3" />
<circle cx="561.5" cy="665" r="1" fill="#1a1a1a" stroke="#1a1a1a" stroke-width="0"/>
<rect x="572.6" y="641" width="3.4" height="11" rx="1.6" fill="none" stroke="#1a1a1a" stroke-width="1" />
<rect x="577.5" y="655.7" width="2.8" height="8.3" rx="1.2" fill="none" stroke="#1a1a1a" stroke-width="1" />
<rect x="616.7" y="618" width="2.8" height="27" rx="1.4" fill="none" stroke="#1a1a1a" stroke-width="1" />
<rect x="616.7" y="648" width="2.8" height="12" rx="1.4" fill="none" stroke="#1a1a1a" stroke-width="1" />
<line x1="547.5" y1="669.5" x2="678.2" y2="669.5" stroke="#1a1a1a" stroke-width="1.4" />
<polyline points="551.9,672.2 544.4,678.7 534.1,678.7 532.3,681 691,681 689.5,679 679.8,679 673.3,672.4 551.9,672.2" fill="none" stroke="#1a1a1a" stroke-width="1.2" stroke-linejoin="round" />
<path d="M577.8,669 L577.8,592 Q577.8,587.5 582,587 Q587,586.5 589,583.5 Q592,580 599,580 Q606,580 609,583.5 Q611,586.5 615.5,587 Q619.5,587.5 619.5,592 L619.5,669" fill="none" stroke="#1a1a1a" stroke-width="1.2" stroke-linejoin="round" />
<path d="M580.6,660 L580.6,593 Q580.6,589.5 584,589.2 Q589,588.8 591,585.8 Q594,582.6 599,582.6 Q604,582.6 607,585.8 Q609,588.8 613.5,589.2 Q616.7,589.5 616.7,593 L616.7,615" fill="none" stroke="#1a1a1a" stroke-width="1" stroke-linejoin="round" />
<circle cx="599" cy="585.3" r="0.9" fill="#1a1a1a" stroke="#1a1a1a" stroke-width="0"/>
<path d="M583.4,655 L583.4,594 Q583.4,591.2 586,591.2 L611,591.2 Q613.9,591.2 613.9,594 L613.9,669" fill="none" stroke="#1a1a1a" stroke-width="1.1" stroke-linejoin="round" />
<path d="M588,596 Q590,591.5 597,592 Q606,593 606,600 L607,612 Q606,620 600,622 L594,624 Q590,628 596,628 L604,626 Q612,628 611,640 Q610,652 598,652 Q586,650 586,640 L586,630 L588,620 L585,610 Z" fill="none" stroke="#1a1a1a" stroke-width="1" stroke-linejoin="round" />
<ellipse cx="598.3" cy="605.4" rx="7.5" ry="10.5" fill="#3a3a3a"/>
<ellipse cx="599" cy="637" rx="9" ry="11" fill="#3a3a3a"/>
<circle cx="598.3" cy="605.4" r="5" fill="#fff" stroke="#1a1a1a" stroke-width="0"/>
<circle cx="598.3" cy="635.1" r="5" fill="#fff" stroke="#1a1a1a" stroke-width="0"/>
<rect x="605" y="596" width="6.5" height="8" rx="1" fill="#fff" stroke="#1a1a1a" stroke-width="1.1" transform="rotate(-15 608.2 600)"/>
<rect x="603.5" y="625.5" width="7" height="8" rx="1" fill="#fff" stroke="#1a1a1a" stroke-width="1.1" transform="rotate(-15 607 629.4)"/>
<rect x="585" y="638" width="6" height="6" rx="1" fill="#fff" stroke="#1a1a1a" stroke-width="1.1" transform="rotate(-30 588 641)"/>
<ellipse cx="592.6" cy="654.9" rx="2.2" ry="4" fill="none" stroke="#1a1a1a" stroke-width="1"/>
<path d="M583.4,660 L586,658 L609,658 M586,663.5 L613.9,663.5 M583.4,669 L586,666" fill="none" stroke="#1a1a1a" stroke-width="1" stroke-linejoin="round" />
<rect x="608.2" y="657.7" width="5.0" height="3.6" rx="0" fill="none" stroke="#1a1a1a" stroke-width="1" />
<circle cx="587" cy="664" r="0.9" fill="#1a1a1a" stroke="#1a1a1a" stroke-width="0"/>
<circle cx="644.2" cy="665.2" r="1" fill="#1a1a1a" stroke="#1a1a1a" stroke-width="0"/>
<path d="M658.2,658.8 L662,658.8 Q663.5,659.5 663.5,661.5 Q663.5,664.3 661,664.3 L658.2,664.3 Z" fill="none" stroke="#1a1a1a" stroke-width="1.2" stroke-linejoin="round" />
<line x1="613.4" y1="599.4" x2="744" y2="599.4" stroke="#1a1a1a" stroke-width="0.9" />
<line x1="613.4" y1="628.2" x2="719.3" y2="628.2" stroke="#1a1a1a" stroke-width="0.9" />
<line x1="690" y1="681.1" x2="744" y2="681.1" stroke="#1a1a1a" stroke-width="0.9" />
<line x1="737.6" y1="599.4" x2="737.6" y2="681.3" stroke="#1a1a1a" stroke-width="0.9" />
<polyline points="739.1,607.9 737.6,599.4 736.1,607.9" fill="none" stroke="#1a1a1a" stroke-width="0.9" stroke-linejoin="miter"/>
<polyline points="736.1,672.8 737.6,681.3 739.1,672.8" fill="none" stroke="#1a1a1a" stroke-width="0.9" stroke-linejoin="miter"/>
<text x="734.2" y="641.5" font-size="10.8" font-weight="normal" fill="#222" stroke="#222" stroke-width="0.25" text-anchor="middle" textLength="17.5" lengthAdjust="spacingAndGlyphs" transform="rotate(-90 734.2 641.5)" >184</text>
<line x1="715.2" y1="628.2" x2="715.2" y2="681.1" stroke="#1a1a1a" stroke-width="0.9" />
<polyline points="716.7,636.7 715.2,628.2 713.7,636.7" fill="none" stroke="#1a1a1a" stroke-width="0.9" stroke-linejoin="miter"/>
<polyline points="713.7,672.6 715.2,681.1 716.7,672.6" fill="none" stroke="#1a1a1a" stroke-width="0.9" stroke-linejoin="miter"/>
<text x="711.3" y="654.1" font-size="10.8" font-weight="normal" fill="#222" stroke="#222" stroke-width="0.25" text-anchor="middle" textLength="17.5" lengthAdjust="spacingAndGlyphs" transform="rotate(-90 711.3 654.1)" >120</text>
<line x1="610.3" y1="598.4" x2="610.3" y2="737.6" stroke="#1a1a1a" stroke-width="0.9" />
<line x1="691.4" y1="681" x2="691.4" y2="737.6" stroke="#1a1a1a" stroke-width="0.9" />
<line x1="610.3" y1="734.5" x2="691.4" y2="734.5" stroke="#1a1a1a" stroke-width="0.9" />
<polyline points="618.8,733.0 610.3,734.5 618.8,736.0" fill="none" stroke="#1a1a1a" stroke-width="0.9" stroke-linejoin="miter"/>
<polyline points="682.9,736.0 691.4,734.5 682.9,733.0" fill="none" stroke="#1a1a1a" stroke-width="0.9" stroke-linejoin="miter"/>
<text x="641.7" y="731.4" font-size="10.8" font-weight="normal" fill="#222" stroke="#222" stroke-width="0.25" text-anchor="start" textLength="17.6" lengthAdjust="spacingAndGlyphs" >180</text>
<text x="546.1" y="770" font-size="14.4" font-weight="normal" fill="#222" stroke="#222" stroke-width="0.25" text-anchor="start" textLength="131.2" lengthAdjust="spacingAndGlyphs" >Sivukuva (venttiiliosa)</text>
</svg>
</body></html>
